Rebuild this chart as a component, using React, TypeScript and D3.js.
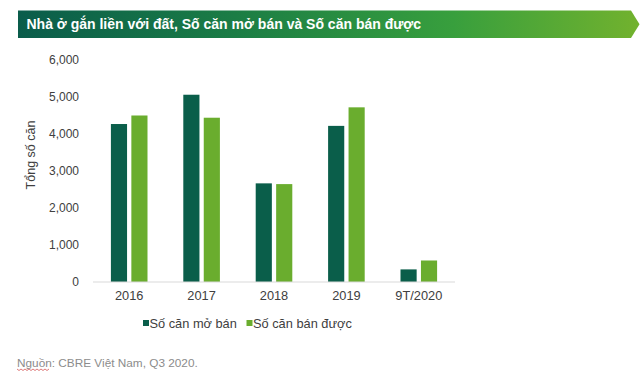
import React from "react";
import * as d3 from "d3";

const categories = ["2016", "2017", "2018", "2019", "9T/2020"];
const seriesNames = ["Số căn mở bán", "Số căn bán được"];
const openedUnits = [4260, 5050, 2660, 4210, 340];
const soldUnits = [4490, 4430, 2640, 4710, 580];
const yTicks = [0, 1000, 2000, 3000, 4000, 5000, 6000];
const titleText = "Nhà ở gắn liền với đất, Số căn mở bán và Số căn bán được";
const yTitle = "Tổng số căn";
const sourceText = "Nguồn: CBRE Việt Nam, Q3 2020.";

const colors = ["#0a5e4a", "#6aad2e"];
const FONT = "Arial, 'Liberation Sans', sans-serif";

export default function App() {
  const W = 640, H = 382;
  const x0 = d3.scaleBand<string>().domain(categories).range([93, 455]).paddingInner(0.4945).paddingOuter(0.2473);
  const x1 = d3.scaleBand<string>().domain(seriesNames).range([0, x0.bandwidth()]).paddingInner(0.21);
  const y = d3.scaleLinear().domain([0, 6000]).range([282, 59.5]);
  const fmt = d3.format(",");
  const series = [openedUnits, soldUnits];

  // wavy underline for "Nguồn"
  const wave: [number, number][] = [];
  for (let i = 0; i <= 16; i++) wave.push([17 + i * 2, 369 + (i % 2 === 0 ? 0 : 1.5)]);
  const wavePath = d3.line()(wave) || "";

  return (
    <svg width={W} height={H} style={{ position: "absolute", left: 0, top: 0, background: "#fff" }}>
      <defs>
        <linearGradient id="tg" x1="18" x2="640" y1="0" y2="0" gradientUnits="userSpaceOnUse">
          <stop offset="0" stopColor="#0a5c4b" />
          <stop offset="0.35" stopColor="#1b7d45" />
          <stop offset="0.7" stopColor="#389f3d" />
          <stop offset="1" stopColor="#72b22e" />
        </linearGradient>
      </defs>
      <rect width={W} height={H} fill="#fff" />
      <polygon points="18,10.5 631,10.5 639.5,24.2 631,38 18,38" fill="url(#tg)" />
      <text x={26.5} y={29.3} fill="#fff" fontFamily={FONT} fontWeight="bold" fontSize={14}>{titleText}</text>

      {yTicks.map((t) => (
        <text key={t} x={79} y={y(t)} dy="0.35em" textAnchor="end" fontFamily={FONT} fontSize={12} fill="#404040">{fmt(t)}</text>
      ))}
      <text transform={`translate(35,155) rotate(-90)`} textAnchor="middle" fontFamily={FONT} fontSize={12.5} fill="#404040">{yTitle}</text>

      {categories.map((c, i) => (
        <g key={c} transform={`translate(${x0(c)},0)`}>
          {series.map((s, j) => (
            <rect key={j} x={x1(seriesNames[j])} y={y(s[i])} width={x1.bandwidth()} height={y(0) - y(s[i])} fill={colors[j]} />
          ))}
        </g>
      ))}
      <line x1={93} x2={455} y1={282} y2={282} stroke="#d9d9d9" strokeWidth={1.2} />

      {categories.map((c) => (
        <text key={c} x={(x0(c) || 0) + x0.bandwidth() / 2} y={299.5} textAnchor="middle" fontFamily={FONT} fontSize={12.8} fill="#404040">{c}</text>
      ))}

      <rect x={143} y={320} width={6} height={6} fill={colors[0]} />
      <text x={149.5} y={327.5} fontFamily={FONT} fontSize={12.8} fill="#404040">{seriesNames[0]}</text>
      <rect x={246.5} y={320} width={6} height={6} fill={colors[1]} />
      <text x={253} y={327.5} fontFamily={FONT} fontSize={12.8} fill="#404040">{seriesNames[1]}</text>

      <text x={17} y={366.5} fontFamily={FONT} fontSize={11.8} fill="#8c8c8c">{sourceText}</text>
      <path d={wavePath} fill="none" stroke="#d04040" strokeWidth={0.7} />
    </svg>
  );
}
